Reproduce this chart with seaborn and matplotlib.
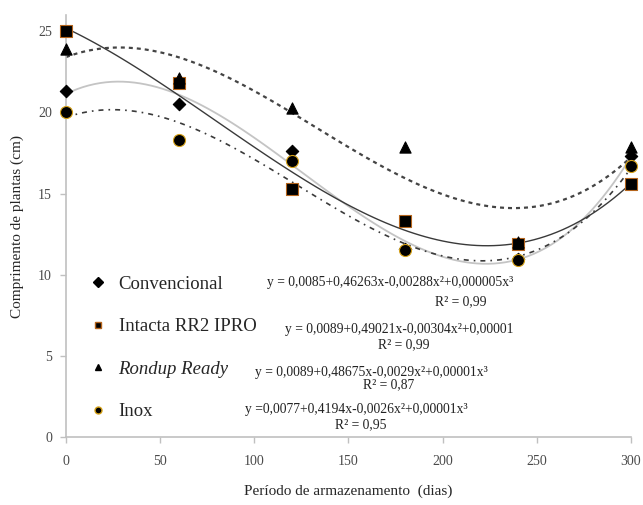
import numpy as np
import pandas as pd
import matplotlib.pyplot as plt
import seaborn as sns
from matplotlib.lines import Line2D

# storage period (days) and plant length (cm)
dias = [0, 60, 120, 180, 240, 300]
convencional = [21.3, 20.5, 17.6, 11.6, 11.0, 17.3]
intacta = [25.0, 21.8, 15.3, 13.3, 11.9, 15.6]
rondup = [23.9, 22.1, 20.3, 17.9, 12.0, 17.9]
inox = [20.0, 18.3, 17.0, 11.5, 10.9, 16.7]

nomes = ['Convencional', 'Intacta RR2 IPRO', 'Rondup Ready', 'Inox']
equacoes = [
    'y = 0,0085+0,46263x-0,00288x²+0,000005x³',
    'y = 0,0089+0,49021x-0,00304x²+0,00001',
    'y = 0,0089+0,48675x-0,0029x²+0,00001x³',
    'y =0,0077+0,4194x-0,0026x²+0,00001x³',
]
r2 = ['R² = 0,99', 'R² = 0,99', 'R² = 0,87', 'R² = 0,95']

df = pd.DataFrame({
    'dias': dias * 4,
    'comprimento': convencional + intacta + rondup + inox,
    'serie': [n for n in nomes for _ in dias],
})

sns.set_style('white')
plt.rcParams['font.family'] = ['Liberation Serif', 'DejaVu Serif']

fig = plt.figure(figsize=(6.43, 5.05), dpi=100)
ax = fig.add_axes([0.1026, 0.1347, 0.8787, 0.8353])

estilos = {
    'Convencional': dict(marker='D', ms=40, ec='black', line='#c4c4c4', ls='-', lw=1.3),
    'Intacta RR2 IPRO': dict(marker='s', ms=75, ec='#b5651d', line='#3a3a3a', ls='-', lw=1.0),
    'Rondup Ready': dict(marker='^', ms=65, ec='black', line='#444444', ls=(0, (1.8, 1.8)), lw=1.6),
    'Inox': dict(marker='o', ms=75, ec='#d4a017', line='#3a3a3a', ls=(0, (3, 3, 1, 3)), lw=1.2),
}

# cubic trend lines
for nome in nomes:
    st = estilos[nome]
    sub = df[df['serie'] == nome]
    sns.regplot(data=sub, x='dias', y='comprimento', order=3, ci=None,
                scatter=False, truncate=True, ax=ax,
                line_kws=dict(color=st['line'], linestyle=st['ls'], linewidth=st['lw']))

for nome in nomes:
    st = estilos[nome]
    sub = df[df['serie'] == nome]
    sns.scatterplot(data=sub, x='dias', y='comprimento', marker=st['marker'],
                    s=st['ms'], color='black', edgecolor=st['ec'], linewidth=0.8,
                    ax=ax, zorder=5, legend=False, clip_on=False)

ax.set_xlim(0, 300)
ax.set_ylim(0, 26)
ax.set_xticks(range(0, 301, 50))
ax.set_yticks(range(0, 26, 5))
for s in ['top', 'right']:
    ax.spines[s].set_visible(False)
for s in ['left', 'bottom']:
    ax.spines[s].set_color('#c0c0c0')
    ax.spines[s].set_linewidth(1.2)
ax.tick_params(axis='both', length=4, width=1, color='#c0c0c0', direction='out',
               labelsize=10, labelcolor='#4a4a4a', pad=6)
ax.tick_params(axis='x', bottom=True, pad=9)
ax.tick_params(axis='y', left=True)

ax.set_xlabel('Período de armazenamento  (dias)', fontsize=11, labelpad=12)
ax.set_ylabel('Comprimento de plantas (cm)', fontsize=11, labelpad=10)

# legend
handles = []
for nome in nomes:
    st = estilos[nome]
    handles.append(Line2D([], [], marker=st['marker'], linestyle='none', color='black',
                          markeredgecolor=st['ec'], markersize=5))
leg = ax.legend(handles, nomes, loc='upper left', bbox_to_anchor=(0.04, 0.382),
                frameon=False, fontsize=13.5, handlelength=1.0, handletextpad=0.6,
                labelspacing=1.35, borderpad=0, borderaxespad=0)
leg.get_texts()[2].set_style('italic')

# equations
eq_pos = [(106.7, 9.5), (116.3, 6.6), (100.4, 4.0), (95.0, 1.67)]
r2_pos = [(196.0, 8.33), (165.7, 5.7), (157.7, 3.2), (142.9, 0.74)]
for eq, r, (ex, ey), (rx, ry) in zip(equacoes, r2, eq_pos, r2_pos):
    ax.text(ex, ey, eq, fontsize=9.8, va='center', ha='left', color='#222222')
    ax.text(rx, ry, r, fontsize=9.8, va='center', ha='left', color='#222222')

fig.savefig('out.png', dpi=100)
